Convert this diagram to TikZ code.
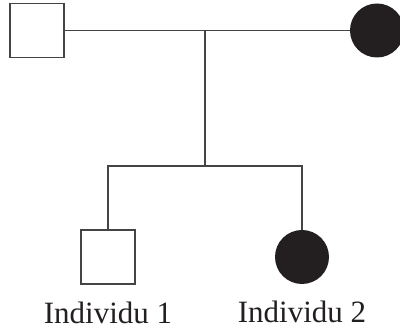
\documentclass[tikz,border=0pt]{standalone}
\usepackage{fontspec}
\setmainfont{Liberation Serif}
\usetikzlibrary{positioning}

\definecolor{ink}{HTML}{231F20}
\definecolor{wire}{HTML}{444444}

\begin{document}
\begin{tikzpicture}[x=1pt, y=1pt, node distance=17pt,
    male/.style={draw=wire, line width=1.2pt, fill=white, minimum size=54pt, inner sep=0pt},
    female/.style={circle, fill=ink, minimum size=54pt, inner sep=0pt},
    caption/.style={inner sep=0pt, font=\fontsize{31}{36}\selectfont, text=ink}]
    \useasboundingbox (0,0) rectangle (400,328);

    \node[male]                         (father)   at (37,297.5)  {};
    \node[female]                       (mother)   at (377,297.5) {};
    \coordinate                         (union)    at (205,297.5);
    \coordinate                         (sibship)  at (205,162);
    \node[male]                         (son)      at (108,71)    {};
    \node[female]                       (daughter) at (302,71)    {};
    \node[caption, below=of son]        (label 1)  {Individu 1};
    \node[caption, below=of daughter]   (label 2)  {Individu 2};

    \draw[wire, line width=1.2pt] (father) -- (mother);
    \draw[wire, line width=1.2pt] (union) -- (sibship);
    \draw[wire, line width=1.2pt] (son) |- (sibship) -| (daughter);
\end{tikzpicture}
\end{document}
